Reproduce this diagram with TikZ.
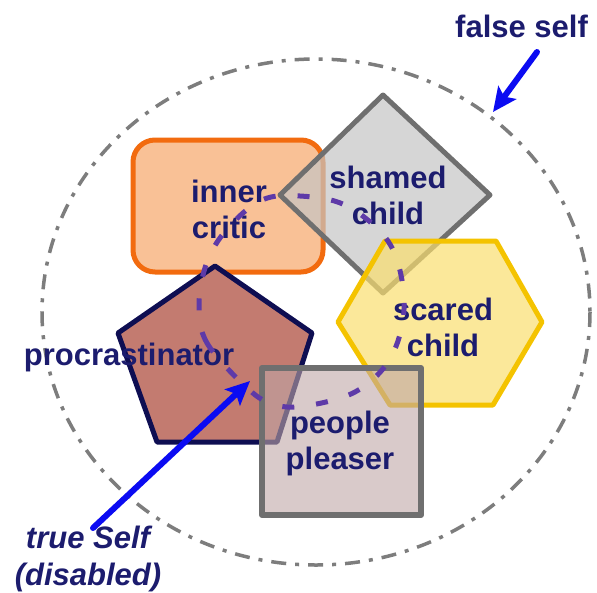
\documentclass[tikz,border=0pt]{standalone}
\usepackage{fontspec}
\setmainfont{Liberation Sans}
\usepackage{tkz-euclide}
\usetikzlibrary{arrows,arrows.meta,calc}

\definecolor{critfill}{HTML}{F9C196}
\definecolor{critline}{HTML}{F26B0F}
\definecolor{shamefill}{HTML}{C5C5C5}
\definecolor{greyline}{HTML}{6F6F6F}
\definecolor{scarefill}{HTML}{F9DE6F}
\definecolor{scareline}{HTML}{F4C300}
\definecolor{procfill}{HTML}{C37B70}
\definecolor{procline}{HTML}{0E0E52}
\definecolor{pleasefill}{HTML}{BFA6A6}
\definecolor{labelblue}{HTML}{1C1C6E}
\definecolor{arrowblue}{HTML}{0B0BF2}
\definecolor{selfpurple}{HTML}{5E3AA8}

\tikzset{
  lbl/.style={font=\bfseries\fontsize{31}{36}\selectfont,text=labelblue,align=center,inner sep=0pt},
  bluearrow/.style={-{Stealth[length=24pt,width=22pt,inset=5pt]},line width=6pt,color=arrowblue},
  selfline/.style={line width=5pt,color=selfpurple,dash pattern=on 12pt off 22pt},
  falseline/.style={line width=3.5pt,color=greyline!90,dash pattern=on 15pt off 9pt on 4pt off 9pt}
}

\begin{document}
\begin{tikzpicture}[x=1pt,y=-1pt]
\useasboundingbox (0,0) rectangle (597,592);
\tkzSetUpLine[line width=5pt,color=black]

% outer false self
\tkzDefPoints{316/312/O}
\draw[falseline] (O) ellipse [x radius=274, y radius=253];

% parts
\tkzDefPoints{133/140/c1,323/272/c3,
  383/95/d1,490/195/d2,383/293/d3,280/195/d4,
  338/322/h1,385/241/h2,496/241/h3,542/322/h4,493/405/h5,390/405/h6,
  215/266/p1,312/333/p2,277/442/p3,157/442/p4,118/333/p5,
  262/368/q1,421/368/q2,421/515/q3,262/515/q4}

\draw[line width=5pt,rounded corners=22pt,fill=critfill,draw=critline] (c1) rectangle (c3);
\tkzDrawPolygon[fill=shamefill,fill opacity=.7,draw=greyline](d1,d2,d3,d4)
\tkzDrawPolygon[fill=scarefill,fill opacity=.7,draw=scareline](h1,h2,h3,h4,h5,h6)
\tkzDrawPolygon[fill=procfill,draw=procline](p1,p2,p3,p4,p5)
\tkzDrawPolygon[line width=6pt,fill=pleasefill,fill opacity=.6,draw=greyline](q1,q2,q3,q4)

% labels
\node[lbl] (critic) at (229,209) {inner\\critic};
\node[lbl] (shamed) at (388,195) {shamed\\child};
\node[lbl] (scared) at (443,327) {scared\\child};
\node[lbl,anchor=base] (procr) at (129,365) {procrastinator};
\node[lbl] (pleaser) at (340,443) {people\\pleaser};
\node[lbl,anchor=base west] (false) at (455,37) {false self};
\node[lbl,font=\bfseries\itshape\fontsize{31}{37}\selectfont] (true) at (88,559) {true Self\\(disabled)};

% the true self thread
\tkzDefPoints{245/386/s1,207/343/s2,199/305/s3,207/262/s4,228/228/s5,
  262/200/s6,300/196/s7,345/205/s8,385/237/s9,401/275/s10,403/320/s11,
  388/362/s12,355/392/s13,305/406/s14,272/404/s15}
\draw[selfline] plot[smooth cycle,tension=.6] coordinates
  {(s1) (s2) (s3) (s4) (s5) (s6) (s7) (s8) (s9) (s10) (s11) (s12) (s13) (s14) (s15)};

% arrows
\tkzDefPoints{93/528/t1,250/381/t2,537/52/f1,493/112/f2}
\tkzDrawSegments[bluearrow](t1,t2 f1,f2)

\end{tikzpicture}
\end{document}
